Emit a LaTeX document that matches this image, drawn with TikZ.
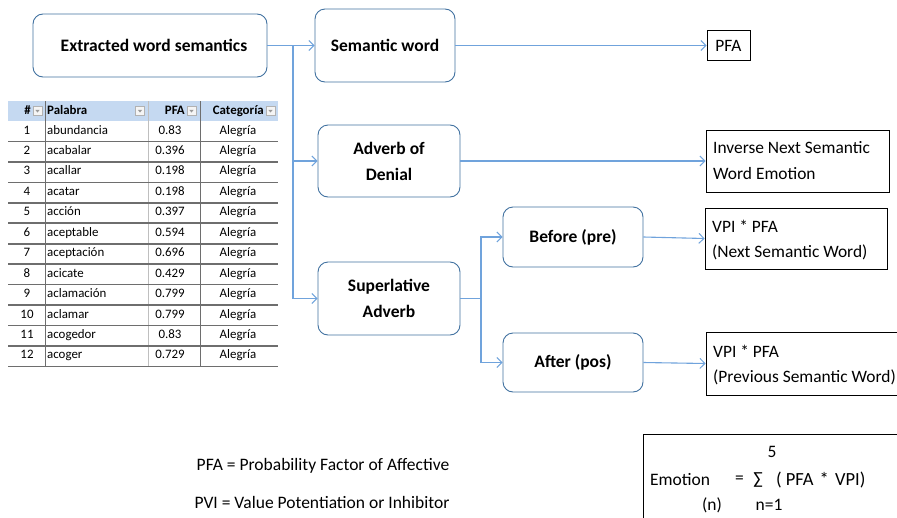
\documentclass[tikz,border=0pt]{standalone}
\usepackage{fontspec}
\setmainfont{Carlito}
\usetikzlibrary{arrows.meta}
\definecolor{boxblue}{RGB}{65,113,160}
\definecolor{linkblue}{RGB}{112,163,220}
\definecolor{headblue}{RGB}{197,217,241}
\definecolor{sepgray}{RGB}{110,110,110}
\tikzset{
  rbox/.style={draw=boxblue, line width=0.9pt, rounded corners=10pt, align=center, font=\fontsize{17.5}{26}\selectfont\bfseries},
  rbox2/.style={draw=black, line width=0.8pt, inner sep=0pt},
  rtext/.style={font=\fontsize{17.4}{20}\selectfont, inner sep=0pt, anchor=west},
  link/.style={draw=linkblue, line width=1.1pt, -{Straight Barb[length=5pt,width=10pt,line width=1pt]}},
  plainlink/.style={draw=linkblue, line width=1.1pt},
  cell/.style={font=\fontsize{12.9}{14}\selectfont, inner sep=0pt, text height=9pt, text depth=3pt},
  hcell/.style={font=\fontsize{12.9}{14}\selectfont\bfseries, inner sep=0pt, text height=9pt, text depth=3pt},
  ddbtn/.style={draw=gray!60, fill=gray!8, minimum width=9pt, minimum height=9pt, inner sep=0pt,
    path picture={\fill[gray!80] ([xshift=-2.2pt,yshift=1.2pt]path picture bounding box.center) -- ([xshift=2.2pt,yshift=1.2pt]path picture bounding box.center) -- ([yshift=-1.5pt]path picture bounding box.center) -- cycle;}},
  plain/.style={font=\fontsize{17.5}{20}\selectfont, inner sep=0pt},
}
\begin{document}
\begin{tikzpicture}[x=1pt,y=-1pt]
\useasboundingbox (0,0) rectangle (897,517);
\clip (0,0) rectangle (897,517);
% boxes
\node[rbox, minimum width=234pt, minimum height=63pt] (ews) at (150,45.5) {\hspace*{8pt}Extracted word semantics};
\node[rbox, minimum width=140pt, minimum height=73pt] (sw) at (385,45.5) {Semantic word};
\node[rbox, minimum width=142pt, minimum height=72pt] (aod) at (389,161) {Adverb of\\Denial};
\node[rbox, minimum width=142pt, minimum height=73pt] (sup) at (389,298.5) {Superlative\\Adverb};
\node[rbox, minimum width=140pt, minimum height=60pt] (bef) at (573,237) {Before (pre)};
\node[rbox, minimum width=140pt, minimum height=59pt] (aft) at (573,362.5) {After (pos)};
% result boxes
\node[rbox2, minimum width=43pt, minimum height=30pt] (pfa) at (728.5,45.5) {};
\node[rtext, anchor=center] (pfat) at (728.5,45.5) {PFA};
\node[rbox2, minimum width=183pt, minimum height=62pt] (inv) at (797.5,161) {};
\node[rtext] (inv1) at (713,148) {Inverse Next Semantic};
\node[rtext] (inv2) at (713,174) {Word Emotion};
\node[rbox2, minimum width=182pt, minimum height=61pt] (vnext) at (796,238.5) {};
\node[rtext] (vn1) at (712,226) {VPI * PFA};
\node[rtext] (vn2) at (712,252) {(Next Semantic Word)};
\node[rbox2, minimum width=200pt, minimum height=63pt] (vprev) at (806,363.5) {};
\node[rtext] (vp1) at (713,351) {VPI * PFA};
\node[rtext] (vp2) at (713,377) {(Previous Semantic Word)};
% connectors
\coordinate (j1) at (293,45.5);
\coordinate (j2) at (481,298.5);
\draw[link] (ews.east) -- (sw.west);
\draw[link] (j1) |- (aod.west);
\draw[link] (j1) |- (sup.west);
\draw[link] (sw.east) -- (pfa.west);
\draw[link] (aod.east) -- (inv.west);
\draw[plainlink] (sup.east) -- (j2);
\draw[link] (j2) |- (bef.west);
\draw[link] (j2) |- (aft.west);
\draw[link] (bef.east) -- (vnext.west);
\draw[link] (aft.east) -- (vprev.west);
% table
\fill[headblue] (8,101) rectangle (278,121);
\draw[sepgray, line width=1pt] (45,101) -- (45,367);
\draw[gray!50, line width=0.6pt] (148,101) -- (148,367);
\draw[sepgray, line width=1pt] (200,101) -- (200,367);
\node[hcell, anchor=east] (h1) at (31,111) {\#};
\node[ddbtn] (d1) at (37.5,111) {};
\node[hcell, anchor=west] (h2) at (47,111) {Palabra};
\node[ddbtn] (d2) at (140,111) {};
\node[hcell, anchor=east] (h3) at (185,111) {PFA};
\node[ddbtn] (d3) at (191.5,111) {};
\node[hcell, anchor=east] (h4) at (264,111) {Categoría};
\node[ddbtn] (d4) at (270.5,111) {};
\foreach \i/\w/\p in {1/abundancia/0.83, 2/acabalar/0.396, 3/acallar/0.198, 4/acatar/0.198, 5/acción/0.397, 6/aceptable/0.594, 7/aceptación/0.696, 8/acicate/0.429, 9/aclamación/0.799, 10/aclamar/0.799, 11/acogedor/0.83, 12/acoger/0.729}{
  \pgfmathsetmacro{\yc}{121+(\i-1)*20.45+10}
  \pgfmathsetmacro{\yb}{121+\i*20.45}
  \node[cell] (n\i) at (27,\yc) {\i};
  \node[cell, anchor=west] (w\i) at (47,\yc) {\w};
  \node[cell] (p\i) at (170,\yc) {\p};
  \node[cell] (c\i) at (238,\yc) {Alegría};
  \draw[sepgray, line width=1.6pt] (8,\yb) -- (278,\yb);
}
% legend
\node[plain] (l1) at (323,466) {PFA = Probability Factor of Affective};
\node[plain] (l2) at (322,502) {PVI = Value Potentiation or Inhibitor};
% formula box
\draw[black, line width=0.8pt] (643,520) -- (643,434.5) -- (900,434.5);
\node[plain] (f5) at (772,452) {5};
\node[plain, anchor=west] (fe) at (650,480) {Emotion};
\node[plain, anchor=west] (feq) at (735,480) {=};
\node[plain] (fsum) at (758,480) {∑};
\node[plain, anchor=west, font=\fontsize{18.5}{20}\selectfont] (fp) at (776,480) {(\hspace{4pt}PFA\hspace{2pt} *\hspace{2pt} VPI)};
\node[plain] (fn) at (712,505) {(n)};
\node[plain] (f1) at (769,505) {n=1};
\end{tikzpicture}
\end{document}
